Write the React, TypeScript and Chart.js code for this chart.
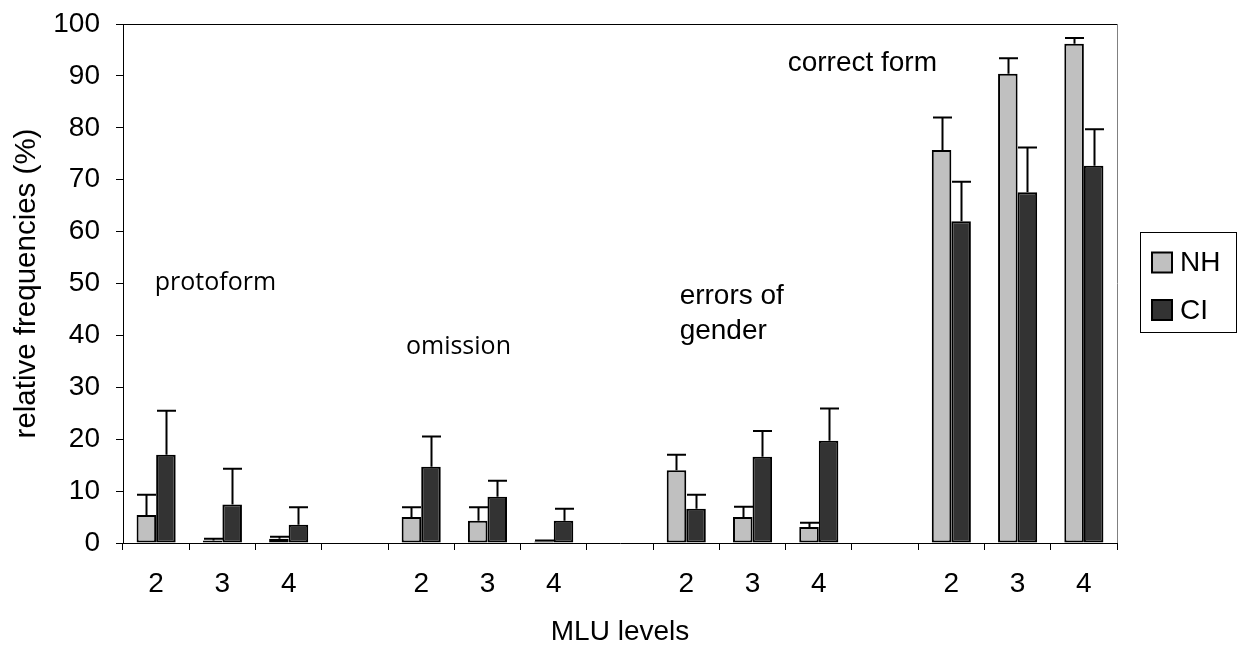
import React, { useEffect, useRef } from 'react';
import { Chart, registerables } from 'chart.js';

Chart.register(...registerables);

// ---- data ----
const xLabels = ['2', '3', '4', '', '2', '3', '4', '', '2', '3', '4', '', '2', '3', '4'];
const seriesNames = ['NH', 'CI'];
const nhValues = [5.4, 0.5, 0.8, null, 5.0, 4.3, 0.3, null, 14.0, 5.0, 3.1, null, 75.7, 90.4, 96.2];
const nhErrors = [3.9, 0.3, 0.4, null, 1.9, 2.6, 0.2, null, 3.0, 2.0, 0.8, null, 6.3, 3.0, 1.1];
const ciValues = [17.0, 7.4, 3.5, null, 14.7, 8.9, 4.3, null, 6.6, 16.6, 19.7, null, 62.0, 67.6, 72.7];
const ciErrors = [8.5, 6.9, 3.4, null, 5.8, 3.1, 2.3, null, 2.7, 5.0, 6.2, null, 7.6, 8.6, 7.0];
const yMin = 0;
const yMax = 100;
const yStep = 10;
const groupLabels = [['protoform'], ['omission'], ['errors of', 'gender'], ['correct form']];
// anchor of each group label in data units (category index, value)
const groupLabelAnchors = [
  { x: -0.02, y: 50.2, family: "'Open Sans', sans-serif", size: 25 },
  { x: 3.77, y: 37.7, family: "'Open Sans', sans-serif", size: 25 },
  { x: 7.9, y: 47.5, family: "'Liberation Sans', Arial, sans-serif", size: 28 },
  { x: 9.53, y: 92.5, family: "'Liberation Sans', Arial, sans-serif", size: 28 },
];

const FONT = "'Liberation Sans', Arial, sans-serif";

const errorBarPlugin = {
  id: 'errorBars',
  afterDatasetsDraw(chart: any) {
    const ctx = chart.ctx;
    const yScale = chart.scales.y;
    chart.data.datasets.forEach((ds: any, i: number) => {
      const meta = chart.getDatasetMeta(i);
      meta.data.forEach((bar: any, j: number) => {
        const v = ds.data[j];
        const e = ds.errorValues ? ds.errorValues[j] : null;
        if (v == null || e == null) return;
        const top = yScale.getPixelForValue(v + e);
        const x = Math.round(bar.x) + 0.5;
        ctx.save();
        ctx.strokeStyle = '#000';
        ctx.lineWidth = 2;
        ctx.beginPath();
        ctx.moveTo(x, bar.y);
        ctx.lineTo(x, top);
        ctx.moveTo(x - 9.5, top);
        ctx.lineTo(x + 9.5, top);
        ctx.stroke();
        ctx.restore();
      });
    });
  },
};

const framePlugin = {
  id: 'frame',
  afterDraw(chart: any) {
    const ctx = chart.ctx;
    const a = chart.chartArea;
    ctx.save();
    ctx.lineWidth = 1;
    ctx.strokeStyle = '#000';
    ctx.beginPath();
    ctx.moveTo(a.left, Math.round(a.top) + 0.5);
    ctx.lineTo(a.right, Math.round(a.top) + 0.5);
    ctx.stroke();
    ctx.strokeStyle = '#808080';
    ctx.beginPath();
    ctx.moveTo(Math.round(a.right) + 0.5, a.top);
    ctx.lineTo(Math.round(a.right) + 0.5, a.bottom);
    ctx.stroke();

    // group labels
    const xs = chart.scales.x;
    const ys = chart.scales.y;
    ctx.fillStyle = '#000';
    ctx.textAlign = 'left';
    ctx.textBaseline = 'middle';
    groupLabels.forEach((lines, gi) => {
      const an = groupLabelAnchors[gi];
      ctx.font = `${an.size}px ${an.family}`;
      const px = xs.getPixelForValue(an.x);
      const py = ys.getPixelForValue(an.y);
      lines.forEach((t, li) => ctx.fillText(t, px, py + li * 35));
    });

    // legend
    const boxL = 1140, boxR = 1236, boxT = 232, boxB = 332;
    ctx.strokeStyle = '#000';
    ctx.lineWidth = 1;
    ctx.strokeRect(boxL + 0.5, boxT + 0.5, boxR - boxL, boxB - boxT);
    ctx.font = `28px ${FONT}`;
    chart.data.datasets.forEach((ds: any, i: number) => {
      const cy = 262.5 + i * 47.5;
      ctx.fillStyle = ds.backgroundColor;
      ctx.fillRect(1152, cy - 10, 20, 20);
      ctx.lineWidth = 2;
      ctx.strokeStyle = '#000';
      ctx.strokeRect(1152, cy - 10, 20, 20);
      ctx.fillStyle = '#000';
      ctx.fillText(ds.label, 1180, cy + 1);
    });
    ctx.restore();
  },
};

export default function App() {
  const ref = useRef<HTMLCanvasElement | null>(null);
  useEffect(() => {
    if (!ref.current) return;
    const chart = new Chart(ref.current, {
      type: 'bar',
      data: {
        labels: xLabels,
        datasets: [
          {
            label: seriesNames[0],
            data: nhValues,
            errorValues: nhErrors,
            backgroundColor: '#C0C0C0',
            borderColor: '#000',
            borderWidth: 2,
            borderSkipped: false,
            categoryPercentage: 0.59,
            barPercentage: 1,
          } as any,
          {
            label: seriesNames[1],
            data: ciValues,
            errorValues: ciErrors,
            backgroundColor: '#333333',
            borderColor: '#000',
            borderWidth: 2,
            borderSkipped: false,
            categoryPercentage: 0.59,
            barPercentage: 1,
          } as any,
        ],
      },
      options: {
        animation: false,
        responsive: false,
        devicePixelRatio: 1,
        layout: { padding: { left: 0, right: 124, top: 24, bottom: 0 } },
        plugins: { legend: { display: false }, tooltip: { enabled: false } },
        scales: {
          x: {
            offset: true,
            grid: { offset: true, drawOnChartArea: false, drawTicks: true, tickLength: 7, color: '#000' },
            border: { display: true, color: '#000', width: 1 },
            ticks: {
              autoSkip: false,
              maxRotation: 0,
              color: '#000',
              padding: 17,
              font: { family: FONT, size: 28 },
            },
            title: {
              display: true,
              text: 'MLU levels',
              color: '#000',
              padding: { top: 0, bottom: 0 },
              font: { family: FONT, size: 28, lineHeight: 1 },
            },
            afterFit(scale: any) {
              scale.height = 103;
              scale.paddingLeft = 0;
              scale.paddingRight = 0;
            },
          },
          y: {
            min: yMin,
            max: yMax,
            ticks: {
              stepSize: yStep,
              color: '#000',
              padding: 16,
              font: { family: FONT, size: 28 },
            },
            grid: { drawOnChartArea: false, drawTicks: true, tickLength: 7, color: '#000' },
            border: { display: true, color: '#000', width: 1 },
            title: {
              display: true,
              text: 'relative frequencies (%)',
              color: '#000',
              padding: { top: 9, bottom: 0 },
              font: { family: FONT, size: 29.5 },
            },
            afterFit(scale: any) {
              scale.width = 123;
              scale.paddingTop = 0;
              scale.paddingBottom = 0;
            },
          },
        },
      },
      plugins: [errorBarPlugin, framePlugin],
    } as any);
    return () => chart.destroy();
  }, []);

  return (
    <div style={{ position: 'absolute', left: 0, top: 0, width: 1241, height: 646, background: '#fff' }}>
      <canvas ref={ref} width={1241} height={646} />
    </div>
  );
}
